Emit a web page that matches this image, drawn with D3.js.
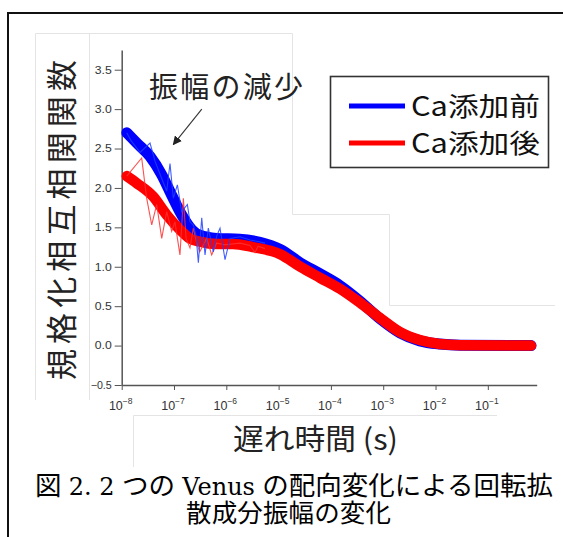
<!DOCTYPE html>
<html><head><meta charset="utf-8">
<script src="https://cdn.jsdelivr.net/npm/d3@7/dist/d3.min.js"></script>
<style>
html,body{margin:0;padding:0;background:#fff;}
svg{display:block;}
</style></head>
<body>
<svg id="c" width="563" height="537"></svg>
<script>
// ---- data ----
const xTickValues = [1e-8, 1e-7, 1e-6, 1e-5, 1e-4, 1e-3, 1e-2, 1e-1];
const xTickExponents = ["-8", "-7", "-6", "-5", "-4", "-3", "-2", "-1"];
const yTickValues = [-0.5, 0.0, 0.5, 1.0, 1.5, 2.0, 2.5, 3.0, 3.5];
const seriesNames = ["Ca添加前", "Ca添加後"];

// smooth fitted curves
const beforeFitTime = [1.25e-8, 1.94e-8, 3.48e-8, 5.8e-8, 9.0e-8, 1.4e-7, 2.2e-7, 3.1e-7, 6.5e-7, 1.8e-6, 4.4e-6, 1.07e-5, 2.6e-5, 6.2e-5, 1.5e-4, 3.5e-4, 8.7e-4, 2.1e-3, 5.0e-3, 1.2e-2, 3.0e-2, 0.67];
const beforeFitValue = [2.70, 2.57, 2.40, 2.17, 1.91, 1.66, 1.47, 1.40, 1.36, 1.35, 1.31, 1.22, 1.05, 0.91, 0.76, 0.57, 0.34, 0.16, 0.06, 0.02, 0.005, 0.0];
const afterFitTime = [1.25e-8, 1.94e-8, 4.0e-8, 7.2e-8, 1.3e-7, 2.0e-7, 3.1e-7, 6.6e-7, 1.34e-6, 3.2e-6, 1.07e-5, 2.6e-5, 6.2e-5, 1.5e-4, 3.5e-4, 8.7e-4, 2.1e-3, 5.0e-3, 1.2e-2, 3.0e-2, 0.67];
const afterFitValue = [2.15, 2.06, 1.89, 1.66, 1.47, 1.36, 1.32, 1.29, 1.29, 1.25, 1.16, 1.00, 0.86, 0.72, 0.55, 0.35, 0.17, 0.07, 0.02, 0.005, 0.0];

// noisy raw data (short times)
const beforeRawTime = [1.25e-8, 1.51e-8, 2.24e-8, 3.48e-8, 4.33e-8, 5.82e-8, 7.25e-8, 8.39e-8, 9.7e-8, 1.16e-7, 1.40e-7, 1.80e-7, 2.02e-7, 2.34e-7, 2.64e-7, 2.92e-7, 3.39e-7, 3.92e-7, 4.53e-7, 5.64e-7, 6.64e-7, 7.58e-7, 9.45e-7, 1.18e-6, 1.83e-6, 2.84e-6, 4.04e-6, 5.5e-6];
const beforeRawValue = [2.70, 2.60, 2.45, 2.57, 2.34, 2.12, 1.96, 2.31, 1.87, 2.04, 1.70, 1.79, 1.57, 1.53, 1.40, 1.05, 1.62, 1.15, 1.49, 1.19, 1.40, 1.49, 1.09, 1.36, 1.38, 1.34, 1.32, 1.30];
const afterRawTime = [1.25e-8, 2.41e-8, 3.0e-8, 3.75e-8, 4.67e-8, 5.82e-8, 7.25e-8, 9.03e-8, 1.04e-7, 1.30e-7, 1.51e-7, 1.70e-7, 2.02e-7, 2.34e-7, 2.72e-7, 3.1e-7, 4.22e-7, 5.26e-7, 6.5e-7, 9.45e-7, 1.83e-6, 2.84e-6, 3.54e-6, 4.04e-6, 5.5e-6];
const afterRawValue = [2.15, 2.38, 1.87, 1.53, 1.79, 1.36, 1.70, 1.45, 1.57, 1.15, 1.87, 1.36, 1.24, 1.49, 1.30, 1.19, 1.36, 1.15, 1.30, 1.28, 1.30, 1.27, 1.18, 1.26, 1.23];

// caption text pieces
const captionLine1 = [["図", "cjk"], ["2. 2", "serif"], ["つの", "cjk"], ["Venus", "serif"], ["の配向変化による回転拡", "cjk"]];
const captionLine2 = "散成分振幅の変化";

// ---- drawing ----
const svg = d3.select("#c");
const x = d3.scaleLog().domain([1e-8, 0.86]).range([121.7, 536.7]);
const y = d3.scaleLinear().domain([-0.5, 3.75]).range([385, 50]);

// outer frame
svg.append("path").attr("d", "M8,537 L8,13 L563,13").attr("fill", "none")
  .attr("stroke", "#111").attr("stroke-width", 2);

// faint pasted panel edges
const faint = svg.append("g").attr("fill", "none").attr("stroke", "#e4e4e4").attr("stroke-width", 1);
faint.append("path").attr("d", "M35.5,400 L35.5,33.5 L292.5,33.5 L292.5,214.5 L389.5,214.5 L389.5,305.5 L555,305.5");
faint.append("path").attr("d", "M89.5,33.5 L89.5,400");
faint.append("path").attr("d", "M133.5,467 L133.5,415.5 L497,415.5");

// axes
const gx = svg.append("g").attr("transform", `translate(0,${y(-0.5)})`);
const minorX = [];
for (let e = -8; e <= -1; e++) for (let k = 2; k <= 9; k++) { const v = k * Math.pow(10, e); if (v <= 0.86) minorX.push(v); }
gx.call(d3.axisBottom(x).tickValues(minorX).tickSize(3).tickSizeOuter(0).tickFormat(""));
gx.call(d3.axisBottom(x).tickValues(xTickValues).tickSize(5).tickSizeOuter(0).tickFormat(""));
gx.selectAll("path.domain").attr("stroke", "#555").attr("stroke-width", 1.5);
gx.selectAll("line").attr("stroke", "#555").attr("stroke-width", 1);

const xl = svg.append("g").attr("font-family", "Liberation Sans, Arial, sans-serif").attr("fill", "#333");
xTickValues.forEach((v, i) => {
  const t = xl.append("text").attr("x", x(v) - 1).attr("y", y(-0.5) + 25).attr("text-anchor", "middle")
    .attr("font-size", 12.5);
  t.append("tspan").text("10");
  t.append("tspan").attr("font-size", 8.5).attr("dy", -6).text(xTickExponents[i].replace("-", "\u2212"));
});

const gy = svg.append("g").attr("transform", `translate(${x(1e-8)},0)`);
const minorY = [];
for (let v = -0.25; v <= 3.76; v += 0.5) minorY.push(+v.toFixed(2));
gy.call(d3.axisLeft(y).tickValues(minorY).tickSize(4).tickSizeOuter(0).tickFormat(""));
gy.call(d3.axisLeft(y).tickValues(yTickValues).tickSize(7).tickSizeOuter(0).tickFormat(d3.format(".1f")));
gy.selectAll("path.domain").attr("stroke", "#555").attr("stroke-width", 1.5);
gy.selectAll("line").attr("stroke", "#555").attr("stroke-width", 1);
gy.selectAll("text").attr("font-family", "Liberation Sans, Arial, sans-serif").attr("font-size", 10.5)
  .attr("fill", "#333").attr("x", -10)
  .attr("textLength", d => (d < 0 ? 21 : 17)).attr("lengthAdjust", "spacingAndGlyphs");

// data lines
const zip = (ts, vs) => ts.map((t, i) => [t, vs[i]]);
const smooth = d3.line().x(d => x(d[0])).y(d => y(d[1])).curve(d3.curveMonotoneX);
const raw = d3.line().x(d => x(d[0])).y(d => y(d[1]));

svg.append("path").datum(zip(beforeFitTime, beforeFitValue)).attr("d", smooth)
  .attr("fill", "none").attr("stroke", "#0000ff").attr("stroke-width", 11)
  .attr("stroke-linecap", "round").attr("stroke-linejoin", "round");
svg.append("path").datum(zip(afterFitTime, afterFitValue)).attr("d", smooth)
  .attr("fill", "none").attr("stroke", "#ff0000").attr("stroke-width", 10.5)
  .attr("stroke-linecap", "round").attr("stroke-linejoin", "round");
svg.append("path").datum(zip(afterRawTime, afterRawValue)).attr("d", raw)
  .attr("fill", "none").attr("stroke", "#ff3030").attr("stroke-width", 1.1).attr("opacity", 0.85);
svg.append("path").datum(zip(beforeRawTime, beforeRawValue)).attr("d", raw)
  .attr("fill", "none").attr("stroke", "#2040ff").attr("stroke-width", 1.1).attr("opacity", 0.85);

// annotation
const defs = svg.append("defs");
defs.append("marker").attr("id", "ah").attr("viewBox", "0 0 10 10").attr("refX", 9).attr("refY", 5)
  .attr("markerWidth", 9).attr("markerHeight", 9).attr("markerUnits", "userSpaceOnUse").attr("orient", "auto")
  .append("path").attr("d", "M0,0 L10,5 L0,10 Z").attr("fill", "#222");
svg.append("line").attr("x1", x(3.4e-7)).attr("y1", y(3.0)).attr("x2", x(9.7e-8)).attr("y2", y(2.55))
  .attr("stroke", "#333").attr("stroke-width", 1.1).attr("marker-end", "url(#ah)");
svg.append("text").attr("x", 149).attr("y", 98).attr("font-family", "Noto Sans CJK JP")
  .attr("font-size", 29).attr("fill", "#222").attr("textLength", 154).attr("lengthAdjust", "spacing")
  .text("振幅の減少");

// legend
const lg = svg.append("g");
lg.append("rect").attr("x", 330.5).attr("y", 76.5).attr("width", 218).attr("height", 91)
  .attr("fill", "#fff").attr("stroke", "#333").attr("stroke-width", 1.6);
const lcolors = ["#0000ff", "#ff0000"];
seriesNames.forEach((n, i) => {
  const yy = 106 + i * 37;
  lg.append("line").attr("x1", 349).attr("x2", 405).attr("y1", yy).attr("y2", yy)
    .attr("stroke", lcolors[i]).attr("stroke-width", 5);
  lg.append("text").attr("x", 411).attr("y", yy + 9.5).attr("font-family", "Noto Sans CJK JP")
    .attr("font-size", 26.5).attr("fill", "#111").attr("textLength", 129).attr("lengthAdjust", "spacingAndGlyphs")
    .text(n);
});

// axis titles
svg.append("text").attr("transform", "translate(73,220) rotate(-90)").attr("text-anchor", "middle")
  .attr("font-family", "Noto Sans CJK JP").attr("font-size", 31).attr("fill", "#222")
  .attr("textLength", 320).attr("lengthAdjust", "spacing").text("規格化相互相関関数");
svg.append("text").attr("x", 233).attr("y", 450).attr("font-family", "Noto Sans CJK JP")
  .attr("font-size", 29).attr("fill", "#222").attr("textLength", 165).attr("lengthAdjust", "spacingAndGlyphs")
  .text("遅れ時間 (s)");

// caption: one text element, pieces positioned after measuring
const fam = k => (k === "serif" ? "DejaVu Serif" : "Noto Sans CJK JP");
const fsz = k => (k === "serif" ? 24 : 26.5);
const widths = captionLine1.map(([s, k]) => {
  const tmp = svg.append("text").attr("font-family", fam(k)).attr("font-size", fsz(k)).text(s);
  const w = tmp.node().getComputedTextLength();
  tmp.remove();
  return w;
});
const line1Start = 35, line1End = 553;
const sumW = d3.sum(widths);
const gapW = Math.max(4, (line1End - line1Start - sumW) / (captionLine1.length - 1));
const cap = svg.append("text").attr("fill", "#000").attr("font-family", "Noto Sans CJK JP").attr("font-size", 25.5);
let cx = line1Start;
captionLine1.forEach(([s, k], i) => {
  cap.append("tspan").attr("x", cx).attr("y", 495).attr("font-family", fam(k)).attr("font-size", fsz(k)).text(s);
  cx += widths[i] + gapW;
});
cap.append("tspan").attr("x", 186).attr("y", 522).attr("textLength", 205).attr("lengthAdjust", "spacing")
  .text(captionLine2);
</script>
</body></html>
